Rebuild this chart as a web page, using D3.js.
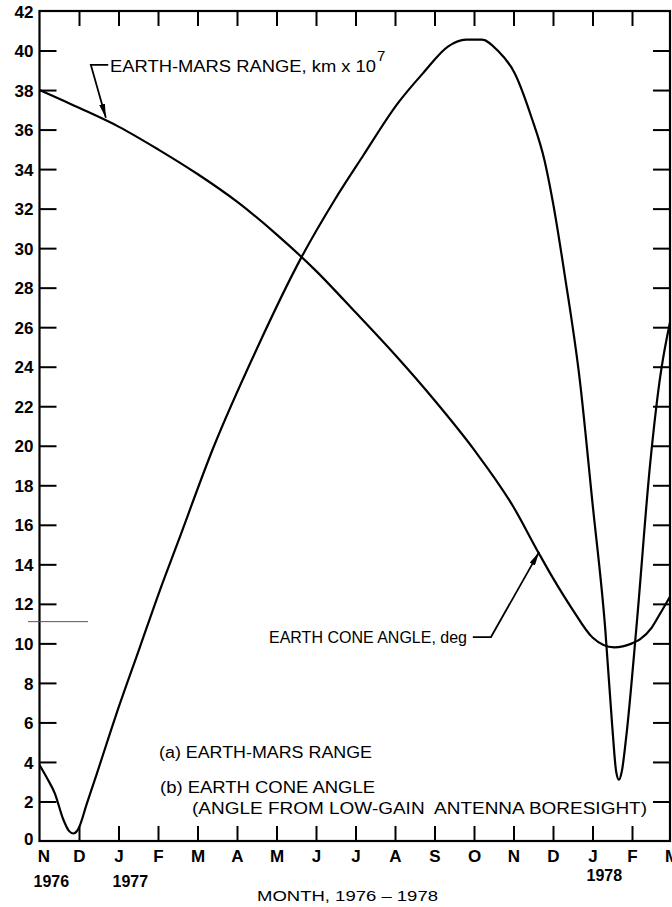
<!DOCTYPE html>
<html>
<head>
<meta charset="utf-8">
<script src="https://cdn.jsdelivr.net/npm/d3@7"></script>
<style>
  body { margin: 0; background: #fff; }
  svg { display: block; }
  text { font-family: 'Liberation Sans', Arial, sans-serif; fill: #000; }
</style>
</head>
<body>
<svg id="chart"></svg>
<script>
// Month ticks, Nov 1976 .. Mar 1978 (index 0..16)
const months = ['N', 'D', 'J', 'F', 'M', 'A', 'M', 'J', 'J', 'A', 'S', 'O', 'N', 'D', 'J', 'F', 'M'];
const yearLabels = ['1976', '1977', '1978'];
const yearMonths = [0, 2, 14];
const yTicks = [0, 2, 4, 6, 8, 10, 12, 14, 16, 18, 20, 22, 24, 26, 28, 30, 32, 34, 36, 38, 40, 42];

// (a) Earth-Mars range, km x 10^7
const rangeMonths = [0, 1, 2, 3, 4, 5, 6, 7, 8, 9, 10, 11, 12, 12.63, 13, 13.5, 14, 14.55, 15, 15.2, 15.5, 15.71, 16];
const rangeValues = [38.0, 37.1, 36.15, 35.0, 33.75, 32.35, 30.7, 28.85, 26.75, 24.6, 22.3, 19.8, 16.9, 14.6, 13.3, 11.7, 10.3, 9.8, 10.0, 10.2, 10.8, 11.5, 12.5];

// (b) Earth cone angle, deg
const coneMonths = [0, 0.2, 0.39, 0.6, 0.75, 0.86, 0.98, 1.2, 1.45, 1.95, 2.54, 3.05, 3.5, 4.4, 5.5, 6.64, 7.46, 8.2, 9.06, 9.73, 10.34, 10.8, 11.2, 11.6, 12.03, 12.45, 12.79, 13.0, 13.3, 13.68, 14.0, 14.32, 14.5, 14.6, 14.67, 14.74, 14.85, 15.12, 15.46, 15.7, 16];
const coneValues = [3.85, 3.15, 2.4, 1.1, 0.5, 0.38, 0.6, 1.9, 3.4, 6.45, 9.8, 12.7, 15.1, 19.9, 24.9, 29.57, 32.4, 34.7, 37.3, 38.9, 40.2, 40.55, 40.55, 40.0, 38.85, 36.65, 34.4, 32.3, 28.6, 23.3, 17.1, 10.8, 5.8, 3.5, 3.1, 3.5, 5.2, 11.0, 19.1, 23.3, 26.6];

const WIDTH = 672;
const HEIGHT = 907;
const PLOT = { left: 39.5, right: 670, top: 11, bottom: 841 };

const x = d3.scaleLinear().domain([0, 16]).range([39.5, 671.5]);
const y = d3.scaleLinear().domain([0, 42]).range([PLOT.bottom, PLOT.top]);

const svg = d3.select('#chart')
  .attr('width', WIDTH)
  .attr('height', HEIGHT);

svg.append('defs').call(defs => {
  defs.append('clipPath').attr('id', 'plotClip')
    .append('rect')
    .attr('x', PLOT.left)
    .attr('y', PLOT.top)
    .attr('width', PLOT.right - PLOT.left)
    .attr('height', PLOT.bottom - PLOT.top);

  defs.append('marker')
    .attr('id', 'arrow')
    .attr('viewBox', '0 0 10 10')
    .attr('refX', 10)
    .attr('refY', 5)
    .attr('markerWidth', 14)
    .attr('markerHeight', 6)
    .attr('markerUnits', 'userSpaceOnUse')
    .attr('preserveAspectRatio', 'none')
    .attr('orient', 'auto')
    .append('path')
    .attr('d', 'M0,0 L10,5 L0,10 Z')
    .attr('fill', '#000');
});

function styleAxis(g) {
  g.select('.domain').remove();
  g.selectAll('.tick line').attr('stroke', '#000').attr('stroke-width', 2);
  g.selectAll('.tick text')
    .attr('fill', '#000')
    .attr('font-family', "'Liberation Sans', Arial, sans-serif")
    .attr('font-weight', 'bold')
    .attr('font-size', 17);
}

// Axes: ticks pointing inward on all four sides
const innerY = yTicks.filter(v => v > 0 && v < 42);
const innerM = d3.range(1, 16);

svg.append('g')
  .attr('transform', `translate(${PLOT.left},0)`)
  .call(d3.axisLeft(y).tickValues(yTicks).tickSizeInner(-17).tickSizeOuter(0).tickPadding(6))
  .call(styleAxis)
  .call(g => g.selectAll('.tick text').attr('dy', '0.36em'))
  .call(g => g.selectAll('.tick').filter(d => d === 0 || d === 42).select('line').remove())
  .call(g => g.selectAll('.tick').filter(d => d === 0).select('text').attr('dy', '0.2em'));

svg.append('g')
  .attr('transform', `translate(${PLOT.right},0)`)
  .call(d3.axisRight(y).tickValues(innerY).tickSizeInner(-17).tickSizeOuter(0).tickFormat(''))
  .call(styleAxis);

svg.append('g')
  .attr('transform', `translate(0,${PLOT.top})`)
  .call(d3.axisTop(x).tickValues(innerM).tickSizeInner(-15).tickSizeOuter(0).tickFormat(''))
  .call(styleAxis);

svg.append('g')
  .attr('transform', `translate(0,${PLOT.bottom})`)
  .call(d3.axisBottom(x).tickValues(d3.range(0, 17)).tickSizeInner(-15).tickSizeOuter(0)
    .tickPadding(9).tickFormat(i => months[i]))
  .call(styleAxis)
  .call(g => g.selectAll('.tick').filter(d => d === 0 || d === 16).select('line').remove())
  .call(g => g.selectAll('.tick').filter(d => d === 0).select('text').attr('dx', 4));

// Frame
svg.append('rect')
  .attr('x', PLOT.left)
  .attr('y', PLOT.top)
  .attr('width', PLOT.right - PLOT.left)
  .attr('height', PLOT.bottom - PLOT.top)
  .attr('fill', 'none')
  .attr('stroke', '#000')
  .attr('stroke-width', 2.2);

// Curves
const line = d3.line()
  .x(d => x(d[0]))
  .y(d => y(d[1]))
  .curve(d3.curveMonotoneX);

const curves = svg.append('g').attr('clip-path', 'url(#plotClip)');

curves.append('path')
  .datum(d3.zip(rangeMonths, rangeValues))
  .attr('d', line)
  .attr('fill', 'none')
  .attr('stroke', '#000')
  .attr('stroke-width', 2.2);

curves.append('path')
  .datum(d3.zip(coneMonths, coneValues))
  .attr('d', line)
  .attr('fill', 'none')
  .attr('stroke', '#000')
  .attr('stroke-width', 2.2);

// Callouts
const callout = d3.line().x(d => x(d[0])).y(d => y(d[1]));

svg.append('path')
  .datum([[1.74, 39.27], [1.30, 39.27], [1.68, 36.6]])
  .attr('d', callout)
  .attr('fill', 'none')
  .attr('stroke', '#000')
  .attr('stroke-width', 1.8)
  .attr('marker-end', 'url(#arrow)');

svg.append('path')
  .datum([[10.97, 10.32], [11.43, 10.32], [12.65, 14.63]])
  .attr('d', callout)
  .attr('fill', 'none')
  .attr('stroke', '#000')
  .attr('stroke-width', 1.8)
  .attr('marker-end', 'url(#arrow)');

svg.append('text')
  .attr('x', 110)
  .attr('y', 72)
  .attr('font-size', 16)
  .attr('textLength', 266)
  .attr('lengthAdjust', 'spacingAndGlyphs')
  .text('EARTH-MARS RANGE, km x 10');

svg.append('text')
  .attr('x', 377)
  .attr('y', 61)
  .attr('font-size', 15)
  .text('7');

svg.append('text')
  .attr('x', 467)
  .attr('y', 643)
  .attr('font-size', 16)
  .attr('text-anchor', 'end')
  .text('EARTH CONE ANGLE, deg');

// Legend notes
svg.append('text')
  .attr('x', 159).attr('y', 758)
  .attr('font-size', 16)
  .attr('textLength', 213)
  .attr('lengthAdjust', 'spacingAndGlyphs')
  .text('(a) EARTH-MARS RANGE');

svg.append('text')
  .attr('x', 160).attr('y', 793)
  .attr('font-size', 16)
  .attr('textLength', 215)
  .attr('lengthAdjust', 'spacingAndGlyphs')
  .text('(b) EARTH CONE ANGLE');

svg.append('text')
  .attr('x', 192).attr('y', 814)
  .attr('font-size', 16)
  .attr('textLength', 455)
  .attr('lengthAdjust', 'spacingAndGlyphs')
  .style('white-space', 'pre')
  .text('(ANGLE FROM LOW-GAIN  ANTENNA BORESIGHT)');

// Year labels and axis title
svg.append('g')
  .selectAll('text')
  .data(yearLabels)
  .join('text')
  .attr('x', (d, i) => x(yearMonths[i]) - 6)
  .attr('y', (d, i) => i === 2 ? 881 : 887)
  .attr('font-size', 16)
  .attr('font-weight', 'bold')
  .text(d => d);

svg.append('text')
  .attr('x', 257)
  .attr('y', 901)
  .attr('font-size', 15)
  .attr('textLength', 181)
  .attr('lengthAdjust', 'spacingAndGlyphs')
  .text('MONTH, 1976 \u2013 1978');

// scan artifact: short stray rule near the left axis
svg.append('line')
  .attr('x1', 28).attr('x2', 88)
  .attr('y1', y(11.1)).attr('y2', y(11.1))
  .attr('stroke', '#555')
  .attr('stroke-width', 1);
</script>
</body>
</html>
